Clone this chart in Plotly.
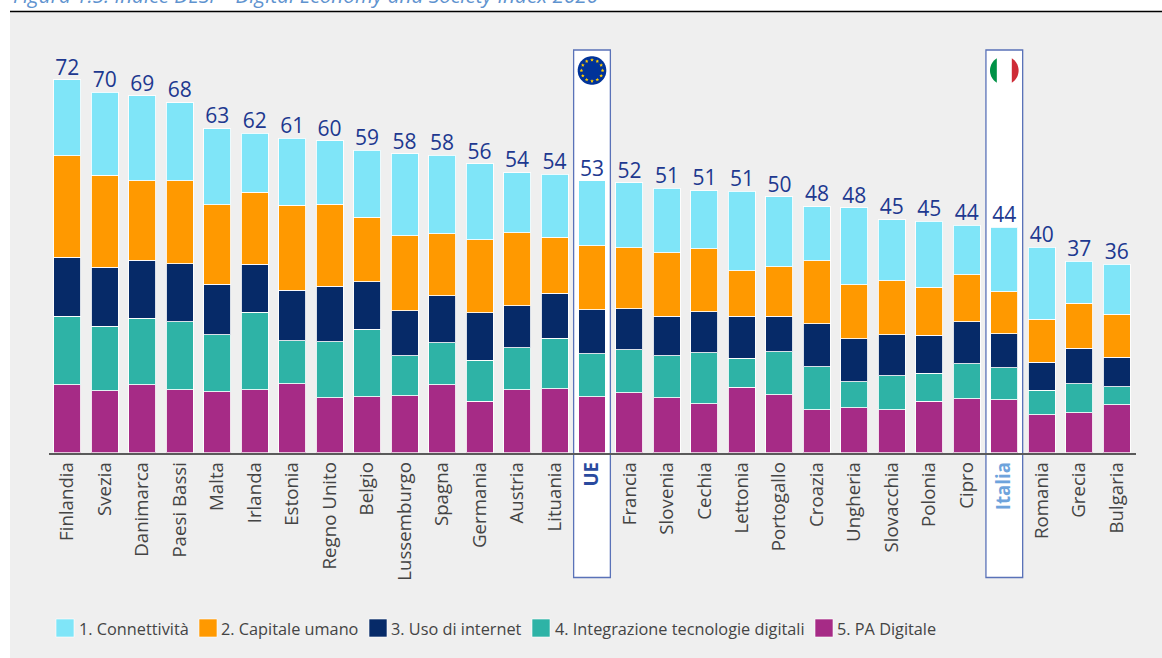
import math
import plotly.graph_objects as go

countries = ["Finlandia","Svezia","Danimarca","Paesi Bassi","Malta","Irlanda","Estonia","Regno Unito","Belgio","Lussemburgo","Spagna","Germania","Austria","Lituania","UE","Francia","Slovenia","Cechia","Lettonia","Portogallo","Croazia","Ungheria","Slovacchia","Polonia","Cipro","Italia","Romania","Grecia","Bulgaria"]
totals = [72,70,69,68,63,62,61,60,59,58,58,56,54,54,53,52,51,51,51,50,48,48,45,45,44,44,40,37,36]
connettivita = [14.7,16.0,16.4,15.1,14.7,11.4,12.9,12.2,12.9,15.8,15.1,14.7,11.6,12.2,12.5,12.5,12.5,11.2,15.4,13.5,10.4,14.9,11.8,12.7,9.5,12.4,13.9,8.1,9.7]
capitale_umano = [19.5,17.8,15.3,16.0,15.4,13.9,16.4,15.8,12.5,14.5,12.0,14.1,14.1,10.8,12.4,11.8,12.2,12.2,8.7,9.5,12.2,10.4,10.4,9.3,9.1,8.1,8.3,8.7,8.3]
uso_internet = [11.4,11.4,11.2,11.2,9.7,9.3,9.8,10.8,9.1,8.7,9.1,9.1,8.1,8.7,8.5,7.9,7.7,7.9,8.1,6.9,8.3,8.3,7.9,7.3,8.1,6.6,5.4,6.9,5.6]
integrazione = [13.3,12.4,12.9,13.1,11.0,14.9,8.3,10.8,13.1,7.7,8.1,7.9,8.1,9.7,8.3,8.3,8.1,9.8,5.6,8.3,8.3,5.0,6.6,5.4,6.8,6.2,4.8,5.6,3.5]
pa_digitale = [13.1,12.0,13.1,12.2,11.8,12.2,13.3,10.6,10.8,11.0,13.1,10.0,12.2,12.4,10.8,11.6,10.6,9.5,12.7,11.2,8.3,8.7,8.3,10.0,10.4,10.2,7.3,7.7,9.3]
series_names = ["1. Connettività","2. Capitale umano","3. Uso di internet","4. Integrazione tecnologie digitali","5. PA Digitale"]
series_colors = ["#7fe5f8","#ff9900","#062a68","#2eb3a6","#a62b86"]
title_text = "Figura 1.5: Indice DESI – Digital Economy and Society Index 2020"

W, H = 1162, 658
def px(x): return x / W
def py(y): return 1 - y / H

idx = list(range(len(countries)))
fig = go.Figure()
stack = [(pa_digitale, 4), (integrazione, 3), (uso_internet, 2), (capitale_umano, 1), (connettivita, 0)]
for vals, i in stack:
    fig.add_trace(go.Bar(x=idx, y=vals, name=series_names[i], width=0.72,
                         marker=dict(color=series_colors[i], line=dict(color="rgba(255,255,255,0.85)", width=1)),
                         showlegend=False))
sums = [a+b+c+d+e for a,b,c,d,e in zip(connettivita,capitale_umano,uso_internet,integrazione,pa_digitale)]
fig.add_trace(go.Scatter(x=idx, y=sums, mode="text", text=[str(t) for t in totals], textposition="top center",
                         textfont=dict(family="Open Sans", size=21, color="#20388f"), showlegend=False, hoverinfo="skip"))

shapes = []
# panel
shapes.append(dict(type="rect", xref="paper", yref="paper", x0=px(10), x1=1, y0=0, y1=py(12), fillcolor="#efefef", line_width=0, layer="below"))
shapes.append(dict(type="line", xref="paper", yref="paper", x0=px(10), x1=1, y0=py(11.5), y1=py(11.5), line=dict(color="#000000", width=1.5), layer="below"))
# highlights
for name in ("UE", "Italia"):
    i = countries.index(name)
    shapes.append(dict(type="rect", xref="x", yref="paper", x0=i-0.49, x1=i+0.49, y0=py(577.5), y1=py(50),
                       fillcolor="#ffffff", line=dict(color="#5a72b8", width=1.3), layer="below"))

def poly(points, color):
    d = "M" + " L".join(f"{px(a):.5f},{py(b):.5f}" for a, b in points) + " Z"
    return dict(type="path", xref="paper", yref="paper", path=d, fillcolor=color, line_width=0, layer="above")

# EU flag
cx, cy, r = 592, 70.5, 14.3
shapes.append(poly([(cx + r*math.cos(t*math.pi/36), cy + r*math.sin(t*math.pi/36)) for t in range(72)], "#003399"))
for k in range(12):
    a = k*math.pi/6
    sx, sy = cx + 10.6*math.cos(a), cy + 10.6*math.sin(a)
    star = []
    for j in range(10):
        rr = 1.9 if j % 2 == 0 else 0.9
        b = -math.pi/2 + j*math.pi/5
        star.append((sx + rr*math.cos(b), sy + rr*math.sin(b)))
    shapes.append(poly(star, "#ffcc00"))
# Italian flag
cx, cy, r, d = 1004.3, 70.5, 14.3, 7.5
a0 = math.acos(d/r)
n = 24
right = [(cx + r*math.cos(-a0 + 2*a0*t/n), cy + r*math.sin(-a0 + 2*a0*t/n)) for t in range(n+1)]
left = [(2*cx - a, b) for a, b in right]
shapes.append(poly(left, "#009246"))
shapes.append(poly(right, "#ce2b37"))

# legend
annotations = []
swatch_x = [56, 199, 369, 532, 815]
text_x = [79, 221, 391, 555, 837]
for i, name in enumerate(series_names):
    shapes.append(dict(type="rect", xref="paper", yref="paper", x0=px(swatch_x[i]), x1=px(swatch_x[i]+18),
                       y0=py(637), y1=py(619), fillcolor=series_colors[i], line=dict(color="rgba(255,255,255,0.6)", width=1), layer="below"))
    annotations.append(dict(text=name, xref="paper", yref="paper", x=px(text_x[i]), y=py(628.5), xanchor="left", yanchor="middle",
                            showarrow=False, xshift=-2, font=dict(family="Open Sans", size=16.3, color="#444444")))
annotations.append(dict(text="<i>"+title_text+"</i>", xref="paper", yref="paper", x=px(13), y=py(11), xanchor="left", yanchor="bottom",
                        showarrow=False, xshift=-2, font=dict(family="Open Sans", size=20.7, color="#5f93cf")))

ticktext = []
for c in countries:
    if c == "UE":
        ticktext.append('<span style="color:#2a4a9e"><b>UE</b></span>')
    elif c == "Italia":
        ticktext.append('<span style="color:#6ea3dc"><b>Italia</b></span>')
    else:
        ticktext.append(c)

fig.update_layout(
    width=W, height=H, barmode="stack", showlegend=False,
    margin=dict(l=0, r=0, t=0, b=0, pad=0),
    paper_bgcolor="#ffffff", plot_bgcolor="rgba(0,0,0,0)",
    shapes=shapes, annotations=annotations,
    font=dict(family="Open Sans"),
    xaxis=dict(domain=[px(48.5), px(1135.5)], range=[-0.5, 28.5], tickmode="array", tickvals=idx, ticktext=ticktext,
               tickangle=-90, tickfont=dict(family="Open Sans", size=18.7, color="#444444"), showgrid=False, zeroline=False,
               showline=True, linecolor="#5a5a5a", linewidth=1.5, ticks="", ticklabelstandoff=0, automargin=False),
    yaxis=dict(domain=[py(452.8), py(29.8)], range=[0, 423/5.18], visible=False, fixedrange=True, automargin=False),
)
fig.write_html("out.html", config={"displayModeBar": False}, post_script="document.body.style.margin='0';")
